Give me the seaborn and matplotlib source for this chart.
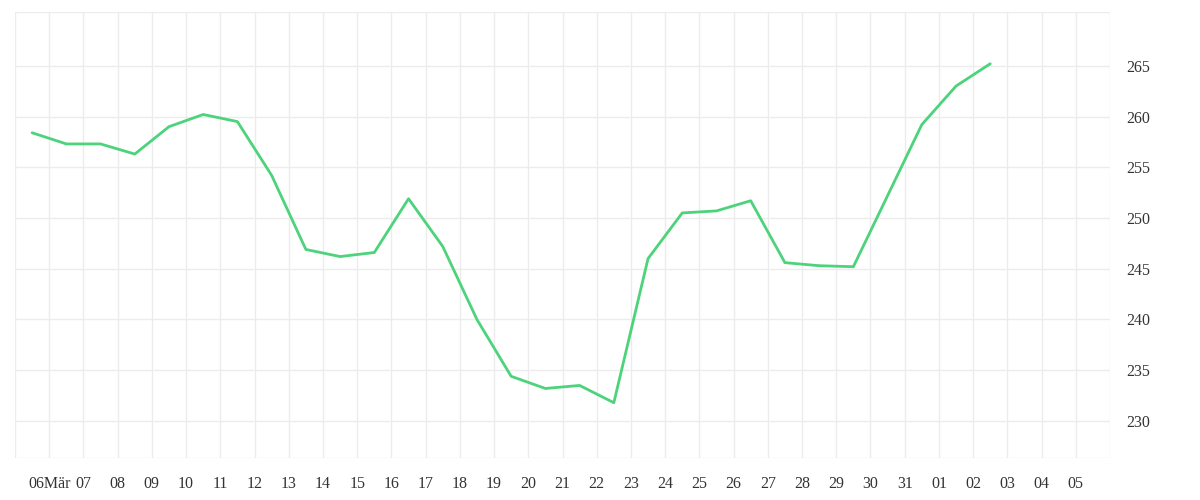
import matplotlib
matplotlib.use("Agg")
import matplotlib.pyplot as plt
import seaborn as sns
import pandas as pd
import numpy as np

values = [258.4, 257.3, 257.3, 256.3, 259.0, 260.2, 259.5, 254.2, 246.9, 246.2,
          246.6, 251.9, 247.2, 240.0, 234.4, 233.2, 233.5, 231.8, 246.0, 250.5,
          250.7, 251.7, 245.6, 245.3, 245.2, 252.2, 259.2, 263.0, 265.2]
dates = pd.date_range("2024-03-05 12:00", periods=len(values), freq="D")
tick_dates = pd.date_range("2024-03-06", "2024-04-05", freq="D")
tick_labels = ["06Mär"] + [d.strftime("%d") for d in tick_dates[1:]]
y_ticks = [230, 235, 240, 245, 250, 255, 260, 265]

sns.set_style("white")
plt.rcParams['font.family'] = ['Liberation Serif', 'DejaVu Serif']
fig = plt.figure(figsize=(12, 5), dpi=100)
ax = fig.add_axes([15/1200, 1-458/500, 1095/1200, 446/500])
df = pd.DataFrame({"date": dates, "value": values})
sns.lineplot(data=df, x="date", y="value", ax=ax, color="#4cd37b", linewidth=2)
ax.set_xlim(pd.Timestamp("2024-03-05"), pd.Timestamp("2024-04-06"))
ax.set_ylim(226.35, 270.3)
ax.set_xticks(tick_dates)
ax.set_xticklabels(tick_labels)
ax.set_yticks(y_ticks)
ax.yaxis.tick_right()
ax.grid(True, color="#ececec", linewidth=1)
for s in ax.spines.values():
    s.set_visible(False)
ax.axhline(226.35, color="#ececec", linewidth=1)
ax.axhline(270.3, color="#ececec", linewidth=1)
ax.axvline(pd.Timestamp("2024-04-06"), color="#ececec", linewidth=1)
ax.axvline(pd.Timestamp("2024-03-05"), color="#ececec", linewidth=1)
ax.tick_params(axis="x", length=10, color="#ececec", labelsize=11.5, labelcolor="#333333", pad=3)
ax.tick_params(axis="y", length=0, labelsize=11.5, labelcolor="#333333", pad=12)
ax.set_xlabel("")
ax.set_ylabel("")
fig.savefig("out.png", dpi=100)
